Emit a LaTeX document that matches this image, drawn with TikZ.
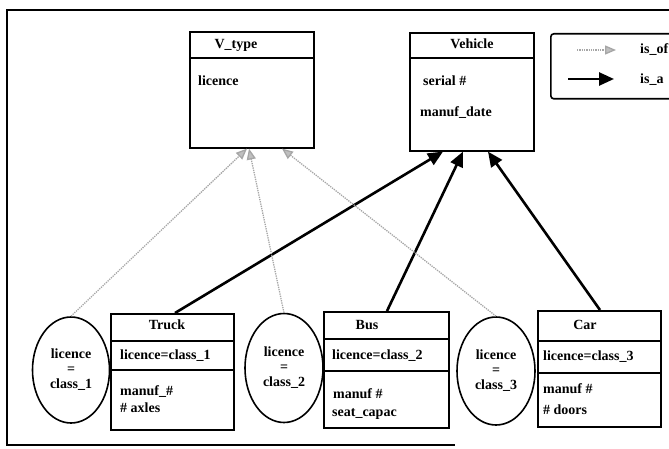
\documentclass[tikz,border=0pt]{standalone}
\usepackage{fontspec}
\setmainfont{Liberation Serif}
\usetikzlibrary{calc,arrows.meta,shapes.geometric}

\begin{document}
\begin{tikzpicture}[x=1pt,y=-1pt,
  every node/.style={font=\fontsize{14}{15}\selectfont\bfseries, inner sep=0pt},
  txt/.style={text height=10pt, text depth=3pt},
  lefttxt/.style={txt, anchor=west},
  classbox/.style={draw, line width=1.6pt, anchor=north west, inner sep=0pt},
  cls/.style={draw, ellipse, line width=1.6pt, inner sep=0pt, align=center},
  divider/.style={line width=1.6pt},
  isa/.style={line width=2.6pt, -{Triangle[length=15pt,width=13pt]}},
  isof/.style={draw=black!35, line width=1.3pt, densely dotted,
               -{Triangle[length=11pt,width=9pt,fill=black!25,color=black!35]}},
  frame/.style={line width=1.6pt}]

\useasboundingbox (0,0) rectangle (669,449);

% outer frame
\draw[frame] (690,10) -- (7,10) -- (7,445) -- (455,445);

% upper classes
\node[classbox, minimum width=124pt, minimum height=116pt] (vtype) at (189,31) {};
\draw[divider] ($(vtype.north west)+(0,27)$) -- ($(vtype.north east)+(0,27)$);
\node[txt] (vtypeT) at (236,45) {V\_type};
\node[lefttxt] (vtypeA) at (198,82) {licence};

\node[classbox, minimum width=124pt, minimum height=118pt] (vehicle) at (409,32) {};
\draw[divider] ($(vehicle.north west)+(0,26)$) -- ($(vehicle.north east)+(0,26)$);
\node[txt] (vehicleT) at (472,45) {Vehicle};
\node[lefttxt] (vehicleA) at (423,82) {serial \#};
\node[lefttxt] (vehicleB) at (420,113) {manuf\_date};

% legend
\node[classbox, rounded corners=3pt, minimum width=130pt, minimum height=65pt] (legend) at (550,33) {};
\coordinate (ofA) at (577,50);
\coordinate (ofB) at (616,50);
\coordinate (isaA) at (568,79);
\coordinate (isaB) at (614,79);
\draw[isof] (ofA) -- (ofB);
\draw[isa] (isaA) -- (isaB);
\node[lefttxt] (legOf) at (640,50) {is\_of};
\node[lefttxt] (legIsa) at (640,80) {is\_a};

% lower classes
\node[classbox, minimum width=123pt, minimum height=116pt] (truck) at (110,313) {};
\draw[divider] ($(truck.north west)+(0,28)$) -- ($(truck.north east)+(0,28)$);
\draw[divider] ($(truck.north west)+(0,57)$) -- ($(truck.north east)+(0,57)$);
\node[txt] (truckT) at (167,326) {Truck};
\node[lefttxt] (truckL) at (120,356) {licence=class\_1};
\node[lefttxt] (truckA) at (120,392) {manuf\_\#};
\node[lefttxt] (truckB) at (120,409) {\# axles};

\node[classbox, minimum width=125pt, minimum height=116pt] (bus) at (323,311) {};
\draw[divider] ($(bus.north west)+(0,28)$) -- ($(bus.north east)+(0,28)$);
\draw[divider] ($(bus.north west)+(0,60)$) -- ($(bus.north east)+(0,60)$);
\node[txt] (busT) at (367,326) {Bus};
\node[lefttxt] (busL) at (332,356) {licence=class\_2};
\node[lefttxt] (busA) at (333,395) {manuf \#};
\node[lefttxt] (busB) at (332,413) {seat\_capac};

\node[classbox, minimum width=123pt, minimum height=116pt] (car) at (537,310) {};
\draw[divider] ($(car.north west)+(0,31)$) -- ($(car.north east)+(0,31)$);
\draw[divider] ($(car.north west)+(0,63)$) -- ($(car.north east)+(0,63)$);
\node[txt] (carT) at (585,326) {Car};
\node[lefttxt] (carL) at (543,357) {licence=class\_3};
\node[lefttxt] (carA) at (543,390) {manuf \#};
\node[lefttxt] (carB) at (543,411) {\# doors};

% licence classes
\node[cls, minimum width=77pt, minimum height=106pt] (e1) at (71,370) {licence\\=\\class\_1};
\node[cls, minimum width=78pt, minimum height=109pt] (e2) at (284,368) {licence\\=\\class\_2};
\node[cls, minimum width=78pt, minimum height=108pt] (e3) at (496,371) {licence\\=\\class\_3};

% is_a links
\draw[isa] ($(truck.north west)+(65,0)$) -- ($(vehicle.south west)+(34,0)$);
\draw[isa] ($(bus.north west)+(64,0)$) -- ($(vehicle.south west)+(54,0)$);
\draw[isa] ($(car.north west)+(63,0)$) -- ($(vehicle.south west)+(79,0)$);

% is_of links
\draw[isof] (e1.north) -- ($(vtype.south west)+(58,0)$);
\draw[isof] (e2.north) -- ($(vtype.south west)+(60,0)$);
\draw[isof] (e3.north) -- ($(vtype.south west)+(93,0)$);
\end{tikzpicture}
\end{document}
